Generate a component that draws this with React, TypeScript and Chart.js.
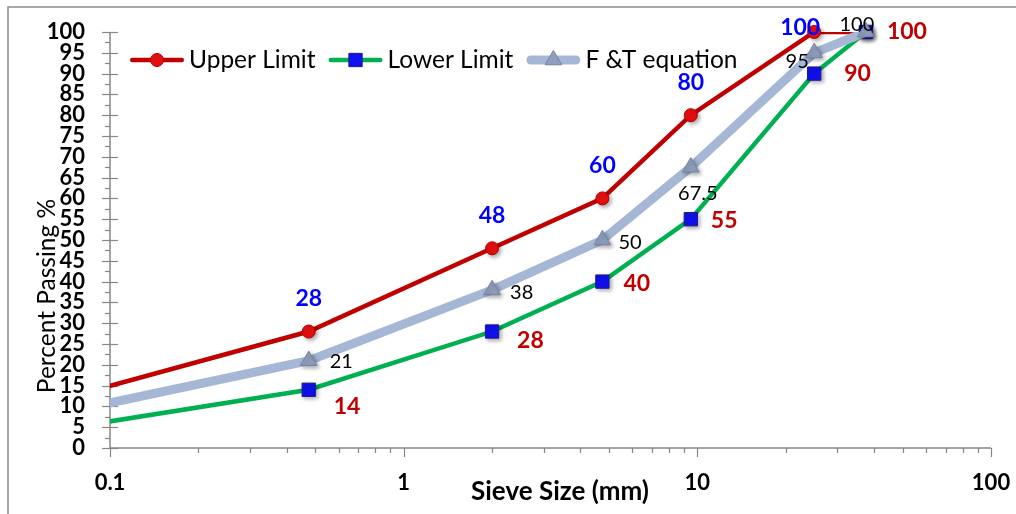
import React, { useEffect, useRef } from "react";
import { Chart, registerables } from "chart.js";

Chart.register(...registerables);

// ---------- data ----------
const sieveSizes = [0.075, 0.475, 2, 4.75, 9.5, 25, 37.5];
const upperLimit = [12.5, 28, 48, 60, 80, 100, 100];
const lowerLimit = [5, 14, 28, 40, 55, 90, 100];
const ftEquation = [9, 21, 38, 50, 67.5, 95, 100];
const xTickLabels = [0.1, 1, 10, 100];
const yTickLabels = [0, 5, 10, 15, 20, 25, 30, 35, 40, 45, 50, 55, 60, 65, 70, 75, 80, 85, 90, 95, 100];
const seriesNames = ["Upper Limit", "Lower Limit", "F &T equation"];
const xTitle = "Sieve Size (mm)";
const yTitle = "Percent Passing %";

const FONT = "Lato, 'Open Sans', sans-serif";
const X_MIN = 0.1;
const X_MAX = 100;

type LabelPos = [number, number, CanvasTextAlign] | null;

const series = [
  {
    name: seriesNames[0],
    values: upperLimit,
    color: "#C00000",
    width: 4.5,
    pointStyle: "circle",
    radius: 6.5,
    fill: "#E60F0F",
    border: "#B00000",
    labelColor: "#0000FF",
    labelFont: `bold 23px ${FONT}`,
    labelPos: [null, [0, -33, "center"], [0, -33, "center"], [0, -33, "center"], [0, -33, "center"], [-14, -4, "center"], null] as LabelPos[],
  },
  {
    name: seriesNames[1],
    values: lowerLimit,
    color: "#00B050",
    width: 4.5,
    pointStyle: "rect",
    radius: 9.4,
    fill: "#1010F0",
    border: "#1A1A8C",
    labelColor: "#C00000",
    labelFont: `bold 23px ${FONT}`,
    labelPos: [null, [25, 17, "left"], [25, 9, "left"], [21, 2, "left"], [20, 1, "left"], [30, 0, "left"], [21, 0, "left"]] as LabelPos[],
  },
  {
    name: seriesNames[2],
    values: ftEquation,
    color: "#A6B7D6",
    width: 9,
    pointStyle: "triangle",
    radius: 9.6,
    fill: "#8E9FBD",
    border: "#7585A3",
    labelColor: "#000000",
    labelFont: `20px ${FONT}`,
    labelPos: [null, [21, 1, "left"], [18, 3, "left"], [16, 3, "left"], [7, 26, "center"], [-17, 9, "center"], [-9, -7, "center"]] as LabelPos[],
  },
];

const toPoints = (vals: number[]) => sieveSizes.map((x, i) => ({ x, y: vals[i] }));

function drawMarker(ctx: CanvasRenderingContext2D, s: any, x: number, y: number) {
  ctx.save();
  ctx.fillStyle = s.fill;
  ctx.strokeStyle = s.border;
  ctx.lineWidth = 1;
  ctx.beginPath();
  if (s.pointStyle === "circle") {
    ctx.arc(x, y, s.radius, 0, Math.PI * 2);
  } else if (s.pointStyle === "rect") {
    const h = s.radius * Math.SQRT1_2;
    ctx.rect(x - h, y - h, 2 * h, 2 * h);
  } else {
    const r = s.radius;
    const a = (2 * Math.PI) / 3;
    ctx.moveTo(x, y - r);
    ctx.lineTo(x + Math.sin(a) * r, y - Math.cos(a) * r);
    ctx.lineTo(x + Math.sin(2 * a) * r, y - Math.cos(2 * a) * r);
    ctx.closePath();
  }
  ctx.fill();
  ctx.stroke();
  ctx.restore();
}

const framePlugin = {
  id: "frame",
  beforeDatasetsDraw(chart: any) {
    const { ctx, chartArea, scales } = chart;
    const { left, right, top, bottom } = chartArea;
    ctx.save();
    ctx.strokeStyle = "#8C8C8C";
    ctx.lineWidth = 1.5;
    ctx.beginPath();
    ctx.moveTo(8, chart.height);
    ctx.lineTo(8, 7);
    ctx.lineTo(chart.width, 7);
    ctx.stroke();
    ctx.strokeStyle = "#868686";
    ctx.lineWidth = 1.5;
    ctx.beginPath();
    ctx.moveTo(left, top);
    ctx.lineTo(left, bottom);
    ctx.lineTo(right, bottom);
    ctx.stroke();
    ctx.lineWidth = 1.2;
    const ys = scales.y;
    for (let v = 0; v <= 100.001; v += 2.5) {
      const py = Math.round(ys.getPixelForValue(v)) + 0.5;
      const major = Math.abs(v / 5 - Math.round(v / 5)) < 1e-6;
      ctx.beginPath();
      ctx.moveTo(left - (major ? 8 : 5), py);
      ctx.lineTo(left + (major ? 8 : 0), py);
      ctx.stroke();
    }
    const xs = scales.x;
    for (let d = -1; d <= 2; d++) {
      for (let m = 1; m <= 9; m++) {
        const v = m * Math.pow(10, d);
        if (v > X_MAX * 1.0001) continue;
        const px = Math.round(xs.getPixelForValue(v)) + 0.5;
        ctx.beginPath();
        ctx.moveTo(px, bottom);
        ctx.lineTo(px, bottom + (m === 1 ? 9 : 5));
        ctx.stroke();
      }
    }
    ctx.restore();
  },
  afterDraw(chart: any) {
    const { ctx } = chart;
    ctx.save();
    ctx.fillStyle = "#000";
    ctx.font = `bold 26px ${FONT}`;
    ctx.textAlign = "center";
    ctx.textBaseline = "alphabetic";
    ctx.fillText(xTitle, 560, 500);
    ctx.save();
    ctx.translate(55, 296);
    ctx.rotate(-Math.PI / 2);
    ctx.font = `24.5px ${FONT}`;
    ctx.textAlign = "center";
    ctx.textBaseline = "alphabetic";
    ctx.fillText(yTitle, 0, 0);
    ctx.restore();
    let lx = 130;
    const ly = 60;
    ctx.font = `24.5px ${FONT}`;
    ctx.textBaseline = "middle";
    ctx.textAlign = "left";
    series.forEach((s) => {
      ctx.save();
      ctx.strokeStyle = s.color;
      ctx.lineWidth = s.width;
      ctx.lineCap = "round";
      ctx.beginPath();
      ctx.moveTo(lx + s.width / 2, ly);
      ctx.lineTo(lx + 54 - s.width / 2, ly);
      ctx.stroke();
      ctx.restore();
      drawMarker(ctx, s, lx + 27, ly);
      ctx.fillStyle = "#000";
      ctx.fillText(s.name, lx + 59, ly);
      lx += 59 + ctx.measureText(s.name).width + 13;
    });
    ctx.restore();
  },
  afterDatasetsDraw(chart: any) {
    const { ctx } = chart;
    ctx.save();
    ctx.textBaseline = "middle";
    series.forEach((s, si) => {
      const meta = chart.getDatasetMeta(si * 2 + 1);
      meta.data.forEach((el: any, i: number) => {
        const pos = s.labelPos[i];
        if (!pos || sieveSizes[i] < X_MIN) return;
        ctx.font = s.labelFont;
        ctx.fillStyle = s.labelColor;
        ctx.textAlign = pos[2];
        ctx.fillText(String(s.values[i]), el.x + pos[0], el.y + pos[1]);
      });
    });
    ctx.restore();
  },
};

const shadowPlugin = {
  id: "markerShadow",
  beforeDatasetDraw(chart: any, args: any) {
    const ds = chart.data.datasets[args.index];
    chart.ctx.save();
    if (ds.isMarker) {
      chart.ctx.shadowColor = "rgba(0,0,0,0.35)";
      chart.ctx.shadowBlur = 4;
      chart.ctx.shadowOffsetX = 2;
      chart.ctx.shadowOffsetY = 2;
    }
  },
  afterDatasetDraw(chart: any) {
    chart.ctx.restore();
  },
};

export default function App() {
  const ref = useRef<HTMLCanvasElement | null>(null);
  useEffect(() => {
    document.body.style.margin = "0";
    document.body.style.overflow = "hidden";
    const canvas = ref.current!;
    const datasets: any[] = [];
    series.forEach((s, si) => {
      const base = (series.length - si) * 2;
      datasets.push({
        label: s.name,
        data: toPoints(s.values),
        borderColor: s.color,
        borderWidth: s.width,
        pointRadius: 0,
        pointHoverRadius: 0,
        fill: false,
        tension: 0,
        clip: 0,
        order: base,
      });
      datasets.push({
        label: s.name + " markers",
        isMarker: true,
        data: toPoints(s.values),
        showLine: false,
        pointStyle: s.pointStyle,
        pointRadius: (c: any) => (sieveSizes[c.dataIndex] < X_MIN ? 0 : s.radius),
        pointBackgroundColor: s.fill,
        pointBorderColor: s.border,
        pointBorderWidth: 1,
        clip: false,
        order: base - 1,
      });
    });
    const chart = new Chart(canvas, {
      type: "line",
      data: { datasets },
      plugins: [shadowPlugin, framePlugin],
      options: {
        animation: false,
        responsive: false,
        maintainAspectRatio: false,
        events: [],
        layout: { padding: { left: 0, right: 25, top: 32, bottom: 0 } },
        plugins: { legend: { display: false }, tooltip: { enabled: false } },
        scales: {
          x: {
            type: "logarithmic",
            min: X_MIN,
            max: X_MAX,
            grid: { display: false, drawTicks: false },
            border: { display: false },
            afterFit: (s: any) => {
              s.height = 66;
              s.paddingLeft = 0;
              s.paddingRight = 0;
              s.paddingTop = 0;
              s.paddingBottom = 0;
            },
            ticks: {
              autoSkip: false,
              maxRotation: 0,
              padding: 22,
              color: "#000",
              font: { family: FONT, size: 22, weight: "bold" },
              callback: (v: any) => {
                const hit = xTickLabels.find((t) => Math.abs(t - Number(v)) < t * 1e-6);
                return hit === undefined ? "" : String(hit);
              },
            },
          },
          y: {
            min: 0,
            max: 100,
            grid: { display: false, drawTicks: false },
            border: { display: false },
            afterFit: (s: any) => {
              s.width = 110;
              s.paddingLeft = 0;
              s.paddingRight = 0;
              s.paddingTop = 0;
              s.paddingBottom = 0;
            },
            ticks: {
              stepSize: 5,
              autoSkip: false,
              padding: 25,
              color: "#000",
              font: { family: FONT, size: 22, weight: "bold" },
              callback: (v: any) => (yTickLabels.includes(Number(v)) ? String(v) : ""),
            },
          },
        },
      } as any,
    });
    return () => chart.destroy();
  }, []);
  return (
    <div style={{ width: 1016, height: 514 }}>
      <canvas ref={ref} width={1016} height={514} style={{ display: "block", width: 1016, height: 514 }} />
    </div>
  );
}
